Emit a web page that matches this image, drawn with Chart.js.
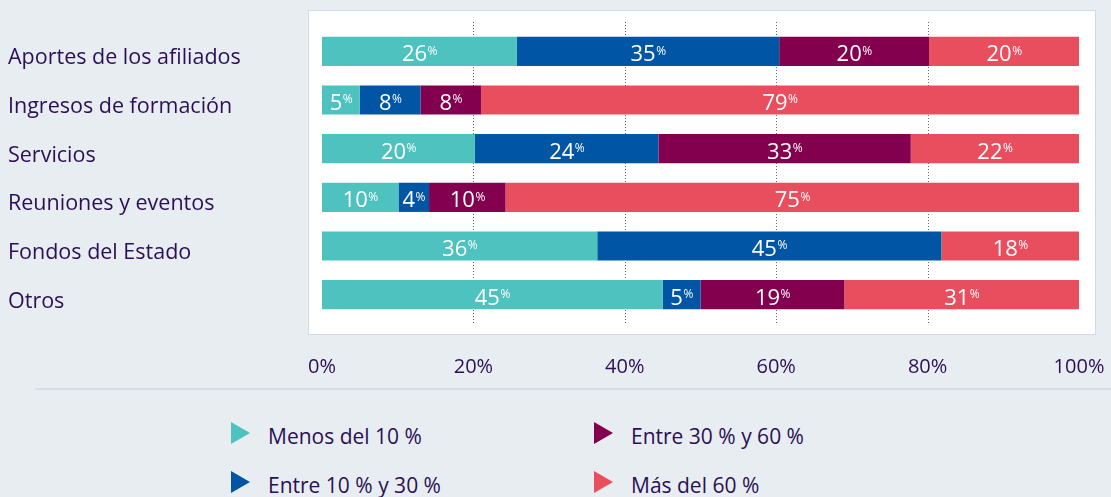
<!DOCTYPE html>
<html><head><meta charset="utf-8">
<script src="https://cdn.jsdelivr.net/npm/chart.js@4.4.1/dist/chart.umd.min.js"></script>
<style>
html,body{margin:0;padding:0;background:#e8edf2;width:1111px;height:497px;overflow:hidden;font-family:"Open Sans",sans-serif;}
#wrap{position:absolute;left:0;top:0;width:1111px;height:386px;}
#sep{position:absolute;left:35px;right:0;top:388px;height:2px;background:#d6dee7;}
#legend{position:absolute;left:231px;top:422px;display:grid;grid-template-columns:363px auto;grid-template-rows:22px 22px;row-gap:27px;grid-auto-flow:column;}
.li{display:flex;align-items:flex-start;height:22px;}
.tri{width:0;height:0;border-top:11px solid transparent;border-bottom:11px solid transparent;border-left-width:19px;border-left-style:solid;}
.lt{margin-left:18px;font-size:21px;line-height:22px;position:relative;top:3px;color:#2b1055;white-space:nowrap;}
</style></head>
<body>
<div id="wrap"><canvas id="c"></canvas></div>
<div id="sep"></div>
<div id="legend"></div>
<script>
const categories = ['Aportes de los afiliados','Ingresos de formación','Servicios','Reuniones y eventos','Fondos del Estado','Otros'];
const seriesNames = ['Menos del 10 %','Entre 10 % y 30 %','Entre 30 % y 60 %','Más del 60 %'];
const menos10 = [26,5,20,10,36,45];
const entre10y30 = [35,8,24,4,45,5];
const entre30y60 = [20,8,33,10,0,19];
const mas60 = [20,79,22,75,18,31];
const xTicks = [0,20,40,60,80,100];
const colors = ['#4ec2be','#0055a4','#83004f','#e94e5f'];

const rawSeries = [menos10, entre10y30, entre30y60, mas60];
const rowTotals = categories.map((_, j) => rawSeries.reduce((s, a) => s + a[j], 0));
const FONT = '"Open Sans", sans-serif';
const TEXT = '#2b1055';

const boxPlugin = {
  id: 'box',
  beforeDraw(chart) {
    const {ctx, chartArea: a} = chart;
    ctx.save();
    ctx.fillStyle = '#ffffff';
    ctx.strokeStyle = '#cfdbe7';
    ctx.lineWidth = 1;
    const l = a.left - 14, t = a.top - 17, r = a.right + 17, b = a.bottom + 16;
    ctx.fillRect(l, t, r - l, b - t);
    ctx.strokeRect(l + 0.5, t + 0.5, r - l - 1, b - t - 1);
    ctx.restore();
  }
};

const gridPlugin = {
  id: 'dotgrid',
  beforeDatasetsDraw(chart) {
    const {ctx, chartArea: a} = chart;
    const xs = chart.scales.x;
    ctx.save();
    ctx.strokeStyle = 'rgba(60,40,100,0.75)';
    ctx.lineWidth = 1;
    ctx.setLineDash([1, 2]);
    xTicks.forEach(v => {
      if (v === xTicks[0] || v === xTicks[xTicks.length - 1]) return;
      const px = Math.round(xs.getPixelForValue(v)) + 0.5;
      ctx.beginPath();
      ctx.moveTo(px, a.top - 5);
      ctx.lineTo(px, a.bottom + 4);
      ctx.stroke();
    });
    ctx.restore();
  }
};

const labelPlugin = {
  id: 'vlabels',
  afterDatasetsDraw(chart) {
    const ctx = chart.ctx;
    ctx.save();
    ctx.fillStyle = '#ffffff';
    ctx.textBaseline = 'alphabetic';
    ctx.textAlign = 'left';
    rawSeries.forEach((arr, i) => {
      const meta = chart.getDatasetMeta(i);
      meta.data.forEach((bar, j) => {
        const v = arr[j];
        if (!v) return;
        const cx = (bar.x + bar.base) / 2;
        const num = String(v);
        ctx.font = '22px ' + FONT;
        const wn = ctx.measureText(num).width;
        ctx.font = '12px ' + FONT;
        const wp = ctx.measureText('%').width;
        const sx = cx - (wn + wp) / 2;
        const base = bar.y + 10;
        ctx.font = '22px ' + FONT;
        ctx.fillText(num, sx, base);
        ctx.font = '12px ' + FONT;
        const top = base - 0.714 * 22;
        ctx.fillText('%', sx + wn + 0.5, top + 0.714 * 12 + 0.5);
      });
    });
    ctx.restore();
  }
};

const chart = new Chart(document.getElementById('c'), {
  type: 'bar',
  data: {
    labels: categories,
    datasets: rawSeries.map((arr, i) => ({
      label: seriesNames[i],
      data: arr.map((v, j) => v / rowTotals[j] * 100),
      backgroundColor: colors[i],
      borderWidth: 0,
      categoryPercentage: 1,
      barPercentage: 0.6
    }))
  },
  options: {
    indexAxis: 'y',
    responsive: true,
    maintainAspectRatio: false,
    animation: false,
    layout: {padding: {left: 8, right: 32, top: 27, bottom: 0}},
    plugins: {legend: {display: false}, tooltip: {enabled: false}},
    scales: {
      x: {
        type: 'linear', stacked: true, min: 0, max: 100,
        afterBuildTicks(s) { s.ticks = xTicks.map(v => ({value: v})); },
        afterFit(s) { s.height = 67; s.paddingLeft = 0; s.paddingRight = 0; },
        grid: {display: false},
        border: {display: false},
        ticks: {
          callback: v => v + '%',
          color: TEXT,
          font: {family: FONT, size: 20},
          padding: 28,
          maxRotation: 0
        }
      },
      y: {
        type: 'category', stacked: true,
        afterFit(s) { s.width = 314; s.paddingTop = 0; s.paddingBottom = 0; },
        grid: {display: false},
        border: {display: false},
        ticks: {
          color: TEXT,
          font: {family: FONT, size: 21.5},
          crossAlign: 'far',
          padding: 0,
          labelOffset: 7
        }
      }
    }
  },
  plugins: [boxPlugin, gridPlugin, labelPlugin]
});

const leg = document.getElementById('legend');
chart.data.datasets.forEach(ds => {
  const it = document.createElement('div');
  it.className = 'li';
  const tri = document.createElement('span');
  tri.className = 'tri';
  tri.style.borderLeftColor = ds.backgroundColor;
  const t = document.createElement('span');
  t.className = 'lt';
  t.textContent = ds.label;
  it.appendChild(tri);
  it.appendChild(t);
  leg.appendChild(it);
});
</script>
</body></html>
